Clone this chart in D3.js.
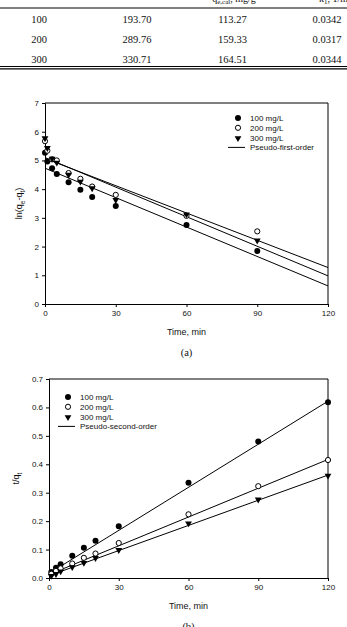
<!DOCTYPE html>
<html>
<head>
<meta charset="utf-8">
<script src="https://cdn.jsdelivr.net/npm/d3@7"></script>
<style>
  body { margin: 0; background: #fff; }
  svg { display: block; }
  .tick text { font-family: "Liberation Sans", Arial, sans-serif; font-size: 8px; fill: #111; }
  .sans { font-family: "Liberation Sans", Arial, sans-serif; fill: #111; }
  .serif { font-family: "Liberation Serif", "Times New Roman", serif; fill: #111; }
</style>
</head>
<body>
<div id="chart"></div>
<script>
// Table values (top, partly cut off)
const conc = ["100", "200", "300"];
const qeExp = ["193.70", "289.76", "330.71"];
const qeCal = ["113.27", "159.33", "164.51"];
const k1 = ["0.0342", "0.0317", "0.0344"];

// (a) pseudo-first-order: ln(qe - qt) vs time
const timesA = [0, 1, 3, 5, 10, 15, 20, 30, 60, 90];
const lnA100 = [5.27, 4.96, 4.73, 4.53, 4.24, 3.98, 3.73, 3.41, 2.75, 1.85];
const lnA200 = [5.67, 5.34, 5.04, 5.0, 4.56, 4.36, 4.09, 3.8, 3.07, 2.53];
const lnA300 = [5.79, 5.45, 5.08, 4.94, 4.52, 4.28, 4.05, 3.64, 3.14, 2.23];
// fitted lines, value at t = 0 and t = 120
const fitA100 = [4.73, 0.63];
const fitA200 = [5.07, 1.27];
const fitA300 = [5.1, 0.98];

// (b) pseudo-second-order: t/qt vs time
const timesB = [1, 3, 5, 10, 15, 20, 30, 60, 90, 120];
const tqB100 = [0.021, 0.036, 0.048, 0.078, 0.106, 0.131, 0.182, 0.335, 0.48, 0.618];
const tqB200 = [0.015, 0.025, 0.034, 0.051, 0.071, 0.086, 0.123, 0.224, 0.323, 0.415];
const tqB300 = [0.009, 0.016, 0.025, 0.04, 0.055, 0.072, 0.1, 0.194, 0.278, 0.362];
const fitB100 = [0.016, 0.622];
const fitB200 = [0.012, 0.417];
const fitB300 = [0.008, 0.362];

const fitT = [0, 120];
const seriesNames = ["100 mg/L", "200 mg/L", "300 mg/L"];

let width = 347;
let height = 627;

var svg = d3
    .select("#chart")
    .append("svg")
    .attr("width", width)
    .attr("height", height);

// ---- table ----
let hdr = svg.append("g").attr("class", "serif").style("font-size", "10px");
let h1 = hdr.append("text").attr("x", 234).attr("y", 1.5).attr("text-anchor", "middle");
h1.append("tspan").text("q");
h1.append("tspan").attr("dy", 2.5).style("font-size", "7px").text("e,cal");
h1.append("tspan").attr("dy", -2.5).text(", mg/g");
let h2 = hdr.append("text").attr("x", 319).attr("y", 1.5);
h2.append("tspan").text("k");
h2.append("tspan").attr("dy", 2.5).style("font-size", "7px").text("1");
h2.append("tspan").attr("dy", -2.5).text(", 1/min");

svg.append("line").attr("x1", 0).attr("x2", width).attr("y1", 8).attr("y2", 8)
  .attr("stroke", "#000").attr("stroke-width", 1);
svg.append("line").attr("x1", 0).attr("x2", width).attr("y1", 66.5).attr("y2", 66.5)
  .attr("stroke", "#000").attr("stroke-width", 1);
svg.append("line").attr("x1", 0).attr("x2", width).attr("y1", 68.8).attr("y2", 68.8)
  .attr("stroke", "#000").attr("stroke-width", 1.2);

let colX = [39, 137, 232.5, 327];
let rowY = d3.scalePoint().domain(conc).range([22.5, 62.5]);
let cols = [conc, qeExp, qeCal, k1];
cols.forEach(function (col, ci) {
  svg.append("g")
    .selectAll("text")
    .data(col)
    .enter()
    .append("text")
    .attr("class", "serif")
    .style("font-size", "10.5px")
    .attr("text-anchor", "middle")
    .attr("x", colX[ci])
    .attr("y", function (d, i) { return rowY(conc[i]); })
    .text(function (d) { return d; });
});

// ---- shared drawing helpers ----
function marker(g, kind, x, y) {
  if (kind === 0) {
    g.append("circle").attr("cx", x).attr("cy", y).attr("r", 3).attr("fill", "#000");
  } else if (kind === 1) {
    g.append("circle").attr("cx", x).attr("cy", y).attr("r", 2.6)
      .attr("fill", "#fff").attr("stroke", "#000").attr("stroke-width", 1);
  } else {
    g.append("path")
      .attr("d", d3.symbol().type(d3.symbolTriangle).size(20)())
      .attr("transform", "translate(" + x + "," + (y + 0.5) + ") rotate(180)")
      .attr("fill", "#000");
  }
}

function drawPanel(opts) {
  let x = d3.scaleLinear().domain([0, 120]).range([opts.left, 328]);
  let y = d3.scaleLinear().domain(opts.yDomain).range([opts.bottom, opts.top]);
  let g = svg.append("g");

  // frame top/right
  g.append("path")
    .attr("d", "M" + opts.left + "," + opts.top + "H328V" + opts.bottom)
    .attr("fill", "none").attr("stroke", "#000").attr("stroke-width", 1);

  let xAxis = d3.axisBottom(x).tickValues([0, 30, 60, 90, 120]).tickSize(3).tickPadding(3);
  let yAxis = d3.axisLeft(y).tickValues(opts.yTicks).tickSize(3).tickPadding(3)
    .tickFormat(opts.yFormat);
  g.append("g").attr("transform", "translate(0," + opts.bottom + ")").call(xAxis);
  g.append("g").attr("transform", "translate(" + opts.left + ",0)").call(yAxis);
  g.selectAll(".domain").attr("stroke", "#000");
  g.selectAll(".tick line").attr("stroke", "#000");

  // fitted lines
  let line = d3.line()
    .x(function (d) { return x(d[0]); })
    .y(function (d) { return y(d[1]); });
  opts.fits.forEach(function (f) {
    g.append("path")
      .datum(d3.zip(fitT, f))
      .attr("d", line)
      .attr("fill", "none")
      .attr("stroke", "#000")
      .attr("stroke-width", 1);
  });

  // points
  opts.series.forEach(function (vals, si) {
    vals.forEach(function (v, i) {
      marker(g, si, x(opts.times[i]), y(v));
    });
  });

  // legend
  let lg = g.append("g");
  seriesNames.forEach(function (name, i) {
    let ly = opts.legY + i * 9.8;
    marker(lg, i, opts.legX, ly);
    lg.append("text").attr("class", "sans").style("font-size", "8px")
      .attr("x", opts.legX + 12).attr("y", ly + 3).text(name);
  });
  let ly = opts.legY + 3 * 9.8;
  lg.append("line").attr("x1", opts.legX - 10).attr("x2", opts.legX + 7)
    .attr("y1", ly).attr("y2", ly).attr("stroke", "#000").attr("stroke-width", 1);
  lg.append("text").attr("class", "sans").style("font-size", "8px")
    .attr("x", opts.legX + 12).attr("y", ly + 3).text(opts.fitName);

  // x title
  g.append("text").attr("class", "sans").style("font-size", "9px")
    .attr("text-anchor", "middle")
    .attr("x", (opts.left + 328) / 2).attr("y", opts.bottom + 31)
    .text("Time, min");

  // panel label
  g.append("text").attr("class", "serif").style("font-size", "10.5px")
    .attr("text-anchor", "middle")
    .attr("x", (opts.left + 328) / 2).attr("y", opts.bottom + 52)
    .text(opts.label);

  // y title
  let yt = g.append("text").attr("class", "sans").style("font-size", "9px")
    .attr("text-anchor", "middle")
    .attr("transform", "translate(" + opts.yTitleX + "," + (opts.top + opts.bottom) / 2 + ") rotate(-90)");
  opts.yTitle(yt);
}

drawPanel({
  left: 45, top: 103, bottom: 304,
  yDomain: [0, 7], yTicks: [0, 1, 2, 3, 4, 5, 6, 7], yFormat: d3.format("d"),
  times: timesA, series: [lnA100, lnA200, lnA300],
  fits: [fitA100, fitA200, fitA300],
  legX: 238, legY: 118, fitName: "Pseudo-first-order",
  label: "(a)", yTitleX: 22,
  yTitle: function (t) {
    t.append("tspan").text("ln(q");
    t.append("tspan").attr("dy", 2.5).style("font-size", "6.5px").text("e");
    t.append("tspan").attr("dy", -2.5).text("-q");
    t.append("tspan").attr("dy", 2.5).style("font-size", "6.5px").text("t");
    t.append("tspan").attr("dy", -2.5).text(")");
  }
});

drawPanel({
  left: 49, top: 379, bottom: 578,
  yDomain: [0, 0.7], yTicks: [0, 0.1, 0.2, 0.3, 0.4, 0.5, 0.6, 0.7], yFormat: d3.format(".1f"),
  times: timesB, series: [tqB100, tqB200, tqB300],
  fits: [fitB100, fitB200, fitB300],
  legX: 68, legY: 397, fitName: "Pseudo-second-order",
  label: "(b)", yTitleX: 19,
  yTitle: function (t) {
    t.append("tspan").text("t/q");
    t.append("tspan").attr("dy", 2.5).style("font-size", "6.5px").text("t");
  }
});
</script>
</body>
</html>
